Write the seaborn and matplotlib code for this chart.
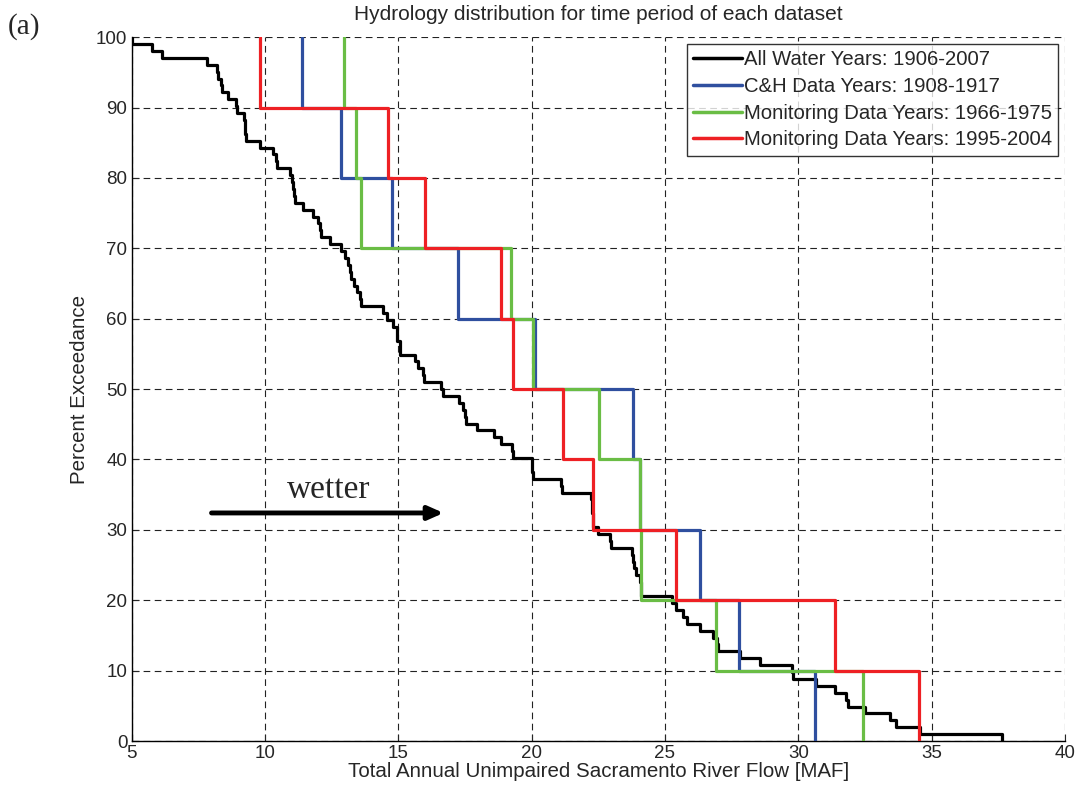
import numpy as np
import pandas as pd
import matplotlib
matplotlib.use("Agg")
import matplotlib.pyplot as plt
import seaborn as sns

# annual unimpaired flow [MAF]
all_years = [5.0, 5.75, 6.15, 7.84, 8.21, 8.25, 8.37, 8.40, 8.62, 8.91,
             8.95, 9.22, 9.25, 9.27, 9.30, 9.81, 10.29, 10.40, 10.45, 10.96,
             11.0, 11.06, 11.08, 11.12, 11.44, 11.79, 12.0, 12.05, 12.1, 12.44,
             12.84, 13.0, 13.1, 13.18, 13.22, 13.35, 13.45, 13.55, 13.62, 14.43,
             14.56, 14.81, 14.94, 14.97, 15.06, 15.08, 15.62, 15.75, 15.93, 15.96,
             16.62, 16.68, 17.28, 17.43, 17.5, 17.55, 17.97, 18.6, 18.87, 19.25,
             19.31, 20.0, 20.03, 20.06, 21.12, 21.15, 22.22, 22.25, 22.27, 22.3,
             22.32, 22.5, 22.93, 22.96, 23.75, 23.8, 23.85, 23.93, 24.05, 24.1,
             24.12, 25.25, 25.4, 25.68, 25.81, 26.3, 26.81, 26.95, 27.0, 27.81,
             28.56, 29.75, 29.81, 30.68, 31.37, 31.8, 31.87, 32.5, 33.43, 33.68,
             34.56, 37.62]
ch_years = [11.40, 12.84, 14.75, 17.25, 20.12, 23.81, 24.06, 26.33, 27.78, 30.62]
mon_1966 = [12.96, 13.41, 13.62, 19.22, 20.06, 22.52, 24.06, 24.10, 26.93, 32.43]
mon_1995 = [9.81, 14.62, 16.02, 18.87, 19.29, 21.16, 22.31, 25.41, 31.37, 34.53]

series = [all_years, ch_years, mon_1966, mon_1995]
labels = ["All Water Years: 1906-2007", "C&H Data Years: 1908-1917",
          "Monitoring Data Years: 1966-1975", "Monitoring Data Years: 1995-2004"]
colors = ["#000000", "#2f4f9f", "#6abd45", "#ee2024"]

x_ticks = list(range(5, 41, 5))
y_ticks = list(range(0, 101, 10))


def exceedance_steps(values):
    v = np.sort(np.asarray(values, dtype=float))
    n = len(v)
    pct = 100 * (1 - np.arange(n + 1) / n)
    return pd.DataFrame({"flow": np.r_[v, v[-1]], "exceed": pct})


sns.set_style("white")
plt.rcParams["font.family"] = ["Liberation Sans", "DejaVu Sans"]

fig = plt.figure(figsize=(10.78, 7.9), dpi=100)
ax = fig.add_axes([0.122, 0.062, 0.866, 0.891])

for vals, lab, col in zip(series, labels, colors):
    df = exceedance_steps(vals)
    sns.lineplot(data=df, x="flow", y="exceed", drawstyle="steps-pre",
                 sort=False, estimator=None, color=col, lw=2.3, label=lab,
                 ax=ax, zorder=3)

ax.set_xlim(5, 40)
ax.set_ylim(0, 100)
ax.set_xticks(x_ticks)
ax.set_yticks(y_ticks)
ax.grid(True, color="#222222", lw=0.8, linestyle=(0, (6, 4)))
ax.tick_params(direction="in", length=5, labelsize=13.5, pad=3,
               left=True, bottom=True)
for side in ["top", "right"]:
    ax.spines[side].set_visible(False)
for side in ["left", "bottom"]:
    ax.spines[side].set_color("black")
    ax.spines[side].set_linewidth(1.0)

ax.set_xlabel("Total Annual Unimpaired Sacramento River Flow [MAF]",
              fontsize=14.8, labelpad=0)
ax.set_ylabel("Percent Exceedance", fontsize=14.8, labelpad=5)
ax.set_title("Hydrology distribution for time period of each dataset",
             fontsize=15, pad=12)

leg = ax.legend(loc="upper right", fontsize=14.6, frameon=True, fancybox=False,
                handlelength=2.4, handletextpad=0.1, labelspacing=0.38,
                borderaxespad=0.35, borderpad=0.3)
leg.get_frame().set_edgecolor("black")
leg.get_frame().set_linewidth(1.0)
for line in leg.get_lines():
    line.set_linewidth(2.5)

# arrow and label
ax.annotate("", xy=(16.7, 32.4), xytext=(8.0, 32.4),
            arrowprops=dict(arrowstyle="-|>,head_length=0.9,head_width=0.4",
                            color="black", lw=3.5, shrinkA=0, shrinkB=0))
ax.text(12.4, 33.6, "wetter", fontsize=24, family="Liberation Serif",
        ha="center", va="bottom")

fig.text(0.007, 0.984, "(a)", fontsize=21, family="Liberation Serif",
         ha="left", va="top")

fig.savefig("out.png", dpi=100)
